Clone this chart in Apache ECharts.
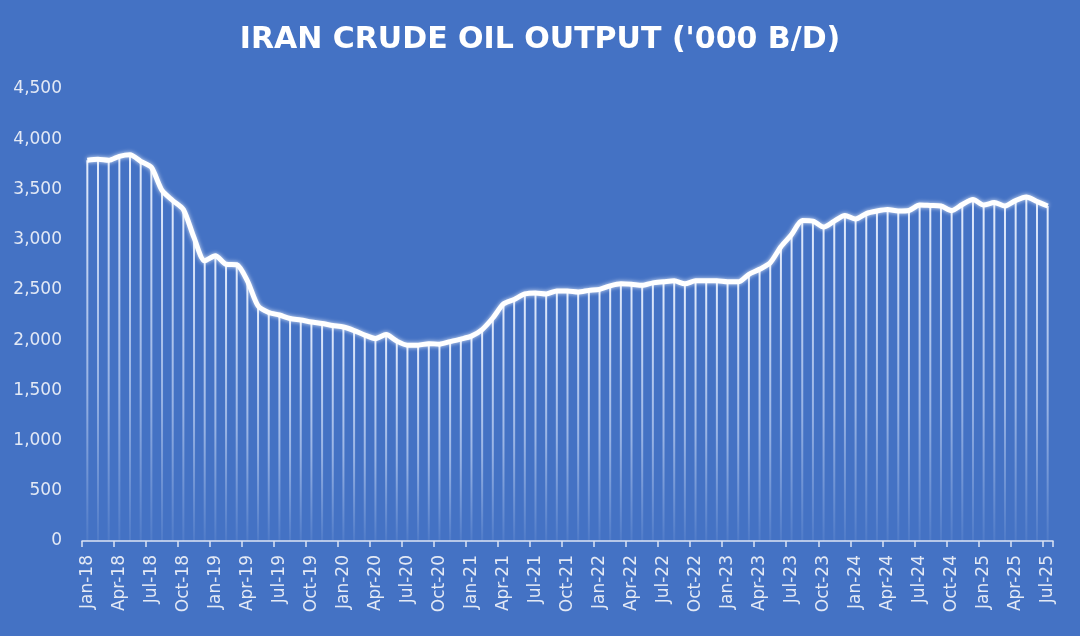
<!DOCTYPE html>
<html>
<head>
<meta charset="utf-8">
<script src="https://cdn.jsdelivr.net/npm/echarts@6/dist/echarts.min.js"></script>
<style>
html,body{margin:0;padding:0;background:#4472C4;}
#chart{width:1080px;height:636px;}
</style>
</head>
<body>
<div id="chart"></div>
<script>
var TITLE = "IRAN CRUDE OIL OUTPUT ('000 B/D)";
var MONTHS = ['Jan','Feb','Mar','Apr','May','Jun','Jul','Aug','Sep','Oct','Nov','Dec'];
var YEARS = ['18','19','20','21','22','23','24','25'];
var LAST_MONTH_2025 = 7; // Jan-25 .. Jul-25

// Monthly output, '000 b/d, Jan-18 .. Jul-25
var output = [
  3790, 3800, 3790, 3830, 3845, 3780, 3720, 3490, 3390, 3300, 3020, 2790,   // 2018
  2840, 2755, 2750, 2590, 2340, 2275, 2250, 2215, 2200, 2180, 2165, 2145,   // 2019
  2130, 2095, 2050, 2015, 2055, 1990, 1950, 1950, 1965, 1960, 1985, 2010,   // 2020
  2040, 2105, 2220, 2360, 2405, 2460, 2470, 2460, 2490, 2490, 2480, 2495,   // 2021
  2505, 2540, 2560, 2555, 2545, 2570, 2580, 2590, 2560, 2590, 2590, 2590,   // 2022
  2580, 2580, 2655, 2705, 2770, 2930, 3050, 3190, 3185, 3125, 3185, 3240,   // 2023
  3205, 3260, 3285, 3300, 3285, 3290, 3345, 3340, 3335, 3290, 3350, 3400,   // 2024
  3345, 3370, 3335, 3390, 3425, 3380, 3335                                  // 2025
];

var categories = [];
YEARS.forEach(function (y, yi) {
  var n = (yi === YEARS.length - 1) ? LAST_MONTH_2025 : 12;
  for (var m = 0; m < n; m++) categories.push(MONTHS[m] + '-' + y);
});

var chart = echarts.init(document.getElementById('chart'), null, {renderer: 'canvas'});
var labelColor = '#e3e9f5';
chart.setOption({
  backgroundColor: '#4472C4',
  animation: false,
  title: {
    text: TITLE,
    left: 'center',
    top: 20,
    textStyle: {
      color: '#ffffff',
      fontFamily: 'DejaVu Sans',
      fontWeight: 'bold',
      fontSize: 30
    }
  },
  grid: {left: 82, right: 27, top: 89, bottom: 95, containLabel: false},
  xAxis: {
    type: 'category',
    data: categories,
    boundaryGap: true,
    axisLine: {show: true, lineStyle: {color: '#dbe4f4', width: 1.5}},
    axisTick: {show: true, interval: 2, length: 6, lineStyle: {color: '#dbe4f4', width: 1.5}},
    axisLabel: {
      interval: 2,
      rotate: 90,
      margin: 14,
      color: labelColor,
      fontFamily: 'DejaVu Sans',
      fontSize: 17
    },
    splitLine: {show: false}
  },
  yAxis: {
    type: 'value',
    min: 0,
    max: 4500,
    interval: 500,
    axisLine: {show: false},
    axisTick: {show: false},
    splitLine: {show: false},
    axisLabel: {
      margin: 20,
      color: labelColor,
      fontFamily: 'DejaVu Sans',
      fontSize: 17,
      formatter: function (v) { return v.toLocaleString('en-US'); }
    }
  },
  series: [
    {
      type: 'bar',
      data: output,
      barWidth: 2,
      z: 1,
      itemStyle: {
        color: new echarts.graphic.LinearGradient(0, 0, 0, 1, [
          {offset: 0, color: 'rgba(235,242,255,0.95)'},
          {offset: 0.6, color: 'rgba(220,232,255,0.55)'},
          {offset: 1, color: 'rgba(220,232,255,0.08)'}
        ])
      },
      silent: true
    },
    {
      type: 'line',
      data: output,
      smooth: 0.25,
      symbol: 'none',
      z: 3,
      lineStyle: {
        color: '#ffffff',
        width: 5,
        shadowColor: 'rgba(255,255,255,0.8)',
        shadowBlur: 4
      }
    }
  ]
});
</script>
</body>
</html>
